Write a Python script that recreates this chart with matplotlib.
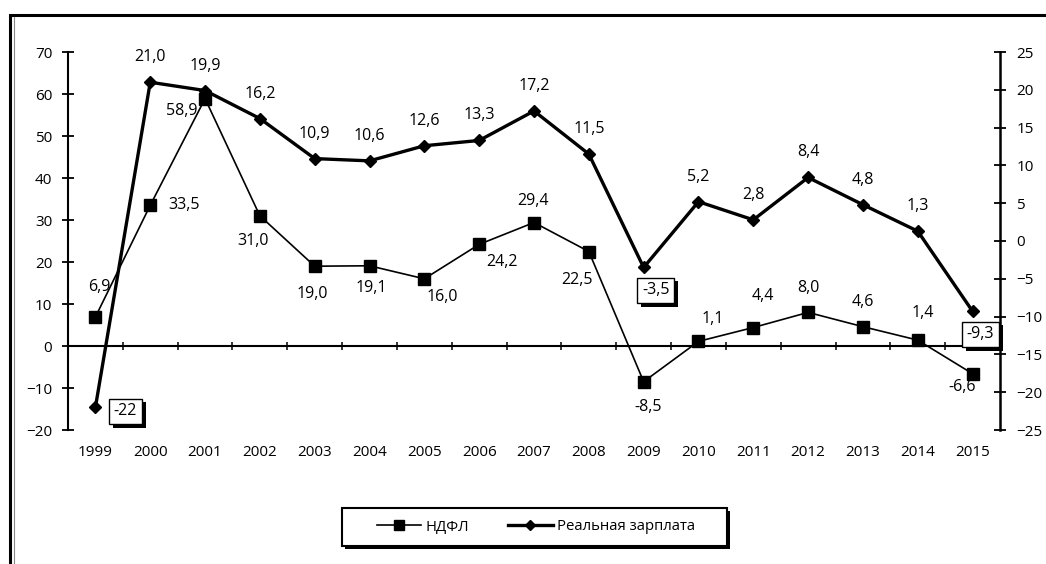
import matplotlib
matplotlib.use('Agg')
import matplotlib.pyplot as plt
from matplotlib.patches import Rectangle
from matplotlib.lines import Line2D
import matplotlib.patheffects as pe
import numpy as np

# ---------------- data ----------------
years = [str(y) for y in range(1999, 2016)]
ndfl = [6.9, 33.5, 58.9, 31.0, 19.0, 19.1, 16.0, 24.2, 29.4, 22.5, -8.5, 1.1, 4.4, 8.0, 4.6, 1.4, -6.6]
wage = [-22, 21.0, 19.9, 16.2, 10.9, 10.6, 12.6, 13.3, 17.2, 11.5, -3.5, 5.2, 2.8, 8.4, 4.8, 1.3, -9.3]
left_ticks = list(range(-20, 71, 10))
right_ticks = list(range(-25, 26, 5))
series_names = ['НДФЛ', 'Реальная зарплата']

# label layout (pixel offsets of label centres from their points)
ndfl_off = [(4, 30), (34, 0), (-23, -12), (-7, -25), (-2, -28), (2, -22), (18, -18),
            (23, -18), (-1, 22), (-12, -28), (4, -25), (14, 22), (10, 32), (0, 24),
            (0, 25), (5, 27), (-10, -13)]
wage_off = [(30, -4)] + [(0, 25)] * 9 + [(12, -23)] + [(0, 25)] * 5 + [(8, -23)]
wage_boxed = [0, 10, 16]


def fmt(v):
    s = f"{v:.1f}" if isinstance(v, float) else str(v)
    return s.replace('.', ',')


plt.rcParams['font.family'] = ['Open Sans', 'DejaVu Sans']

W, H = 1046, 564
fig = plt.figure(figsize=(W / 100, H / 100), dpi=100)
fig.patch.set_facecolor('white')

# outer frame of the picture
fig.add_artist(Rectangle((10 / W, -0.05), 1.2, 1 - 15 / H + 0.05, transform=fig.transFigure,
                         fill=False, ec='black', lw=2.2, zorder=0))
fig.add_artist(Line2D([13.5 / W, 13.5 / W], [0, 1 - 17 / H], transform=fig.transFigure,
                      color='#888888', lw=0.8))

x0, x1, ytop, ybot = 68, 1000, 52, 430
ax = fig.add_axes([x0 / W, 1 - ybot / H, (x1 - x0) / W, (ybot - ytop) / H])
ax.set_facecolor('none')
x = np.arange(len(years))

ax.set_xlim(-0.5, len(years) - 0.5)
ax.set_ylim(-20, 70)
ax.set_yticks(left_ticks)
ax.set_xticks(x, years)
ax.tick_params(axis='x', length=0, pad=11, labelsize=11)
ax.tick_params(axis='y', direction='inout', length=8.6, width=1.3, pad=7, labelsize=11)
for s in ['top', 'right', 'bottom']:
    ax.spines[s].set_visible(False)
ax.spines['left'].set_linewidth(1.5)

# zero line with category separators
sec = ax.secondary_xaxis((0 - (-20)) / 90)
sec.set_xticks(np.arange(0.5, len(years) - 1, 1.0))
sec.tick_params(direction='inout', length=5.5, width=1.1, labelbottom=False, labeltop=False)
sec.spines['bottom'].set_linewidth(1.5)
for s in ['top', 'left', 'right']:
    sec.spines[s].set_visible(False)

ax.plot(x, ndfl, color='black', lw=1.2, marker='s', ms=9.3, zorder=3)

ax2 = ax.twinx()
ax2.set_ylim(-25, 25)
ax2.set_yticks(right_ticks)
ax2.tick_params(axis='y', direction='inout', length=8.6, width=1.3, pad=7.5, labelsize=11)
for s in ['top', 'left', 'bottom']:
    ax2.spines[s].set_visible(False)
ax2.spines['right'].set_linewidth(1.8)
ax2.plot(x, wage, color='black', lw=2.4, marker='D', ms=6.6, zorder=3)

for i, v in enumerate(ndfl):
    ax.annotate(fmt(v), (i, v), xytext=ndfl_off[i], textcoords='offset pixels',
                ha='center', va='center', fontsize=11.5, zorder=5)

for i, v in enumerate(wage):
    if i in wage_boxed:
        t = ax2.annotate(fmt(v), (i, v), xytext=wage_off[i], textcoords='offset pixels',
                         ha='center', va='center', fontsize=11.5, zorder=6,
                         bbox=dict(boxstyle='square,pad=0.3', fc='white', ec='black', lw=1.0))
        t.get_bbox_patch().set_path_effects([
            pe.SimplePatchShadow(offset=(2.6, -2.6), shadow_rgbFace='black', alpha=1),
            pe.Normal()])
    else:
        ax2.annotate(fmt(v), (i, v), xytext=wage_off[i], textcoords='offset pixels',
                     ha='center', va='center', fontsize=11.5, zorder=5)

# legend
box = Rectangle((342 / W, 1 - 546 / H), 385 / W, 38 / H, transform=fig.transFigure,
                fc='white', ec='black', lw=1.5, zorder=2)
box.set_path_effects([pe.SimplePatchShadow(offset=(2.2, -2.2), shadow_rgbFace='black', alpha=1),
                      pe.Normal()])
fig.add_artist(box)
handles = [Line2D([], [], color='black', lw=1.2, marker='s', ms=7),
           Line2D([], [], color='black', lw=2.4, marker='D', ms=5)]
fig.legend(handles, series_names, loc='center', bbox_to_anchor=(536 / W, 1 - 527 / H),
           ncol=2, frameon=False, handlelength=3.0, columnspacing=2.6, handletextpad=0.3,
           fontsize=10.7)

fig.savefig('out.png', dpi=100, facecolor='white')
